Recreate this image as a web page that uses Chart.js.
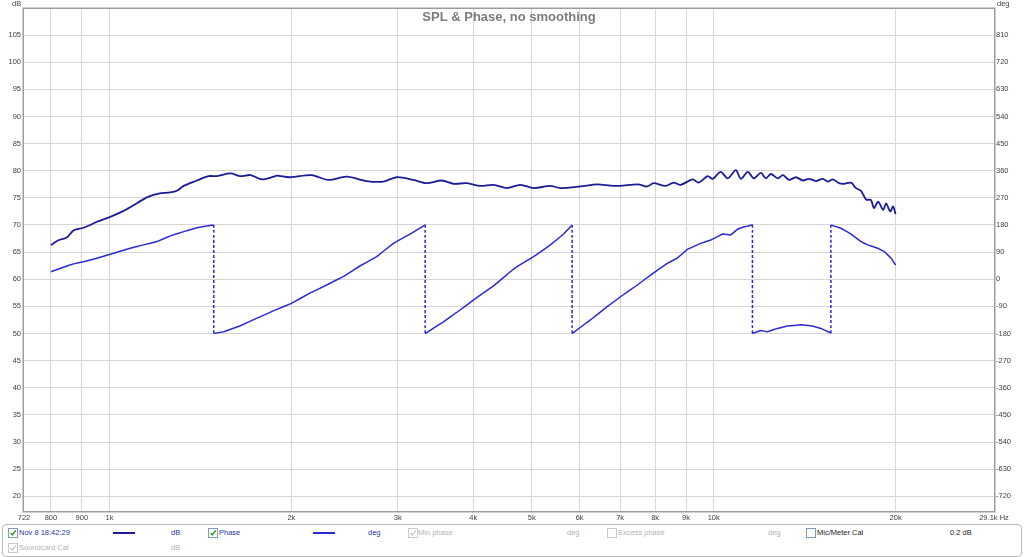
<!DOCTYPE html>
<html>
<head>
<meta charset="utf-8">
<script src="https://cdn.jsdelivr.net/npm/chart.js@4.4.1/dist/chart.umd.min.js"></script>
<style>
  html, body { margin: 0; padding: 0; background: #fff; }
  body { width: 1024px; height: 557px; position: relative; overflow: hidden; font-family: "Liberation Sans", Arial, sans-serif; }
  #wrap { position: absolute; left: 0; top: 0; width: 1024px; height: 524px; }
  .legend { position: absolute; left: 2px; top: 524px; width: 1018px; height: 31px; border: 1px solid #bcbcbc; border-radius: 4px; }
  .legend span { position: absolute; font-size: 7.5px; line-height: 10px; white-space: nowrap; }
  .on { color: #2a36a8; }
  .off { color: #b4b4b4; }
  .cb { width: 8px; height: 8px; border: 1px solid #7f9db9; background: #fff; }
  .cb.dis { border-color: #cacaca; }
  .cb svg { position: absolute; left: 0; top: 0; }
  .swatch { height: 0; border-top: 2px solid #1c1c96; }
</style>
</head>
<body>
<div id="wrap"><canvas id="splChart" width="1024" height="524"></canvas></div>
<div class="legend">
  <span class="cb" style="left:5px;top:3px"><svg width="8" height="8"><polyline points="1.5,4 3.3,6 6.8,1.5" fill="none" stroke="#2a9d2a" stroke-width="1.4"/></svg></span>
  <span class="on" style="left:16px;top:3px">Nov 8 18:42:29</span>
  <span class="swatch" style="left:110px;top:7px;width:22px"></span>
  <span class="on" style="left:168px;top:3px">dB</span>
  <span class="cb" style="left:205px;top:3px"><svg width="8" height="8"><polyline points="1.5,4 3.3,6 6.8,1.5" fill="none" stroke="#2a9d2a" stroke-width="1.4"/></svg></span>
  <span class="on" style="left:216px;top:3px">Phase</span>
  <span class="swatch" style="left:310px;top:7px;width:22px;border-color:#2a2ad0"></span>
  <span class="on" style="left:365px;top:3px">deg</span>
  <span class="cb dis" style="left:405px;top:3px"><svg width="8" height="8"><polyline points="1.5,4 3.3,6 6.8,1.5" fill="none" stroke="#c4c4c4" stroke-width="1.2"/></svg></span>
  <span class="off" style="left:415px;top:3px">Min phase</span>
  <span class="off" style="left:564px;top:3px">deg</span>
  <span class="cb dis" style="left:604px;top:3px"></span>
  <span class="off" style="left:615px;top:3px">Excess phase</span>
  <span class="off" style="left:765px;top:3px">deg</span>
  <span class="cb" style="left:803px;top:3px"></span>
  <span style="left:814px;top:3px;color:#222">Mic/Meter Cal</span>
  <span style="left:947px;top:3px;color:#222">0.2 dB</span>
  <span class="cb dis" style="left:5px;top:18px"><svg width="8" height="8"><polyline points="1.5,4 3.3,6 6.8,1.5" fill="none" stroke="#c4c4c4" stroke-width="1.2"/></svg></span>
  <span class="off" style="left:16px;top:18px">Soundcard Cal</span>
  <span class="off" style="left:168px;top:18px">dB</span>
</div>
<script>
// SPL trace (Hz / dB)
const splFreq = [800, 823, 850, 872, 900, 929, 953, 1003, 1055, 1110,
    1153, 1206, 1261, 1293, 1327, 1395, 1459, 1506, 1586, 1647,
    1712, 1789, 1871, 1890, 1988, 2160, 2301, 2469, 2665, 2840,
    2989, 3184, 3351, 3549, 3710, 3904, 4108, 4322, 4549, 4785,
    5035, 5366, 5575, 6017, 6414, 6834, 7473, 7568, 7762, 7952,
    8325, 8584, 8816, 9231, 9443, 9772, 9961, 10270, 10550, 10880,
    11090, 11390, 11650, 11970, 12200, 12430, 12770, 13020, 13320, 13680,
    14050, 14370, 14760, 15160, 15450, 15750, 16120, 16430, 16880, 17200,
    17530, 17870, 18210, 18420, 18710, 19070, 19290, 19590, 19810, 20000];
const splDb = [66.3, 67.2, 67.7, 69.0, 69.4, 70.0, 70.6, 71.5, 72.6, 74.0,
    75.1, 75.8, 76.0, 76.3, 77.2, 78.2, 79.0, 79.0, 79.5, 79.0,
    79.2, 78.4, 78.9, 79.1, 78.8, 79.2, 78.3, 78.9, 78.1, 78.0,
    78.8, 78.3, 77.7, 78.2, 77.6, 77.7, 77.2, 77.4, 76.8, 77.4,
    76.8, 77.2, 76.8, 77.1, 77.5, 77.2, 77.5, 77.4, 77.1, 77.7,
    77.2, 77.8, 77.4, 78.4, 77.8, 79.0, 78.5, 79.8, 78.6, 80.1,
    78.5, 79.8, 78.6, 79.6, 78.6, 79.4, 78.6, 79.2, 78.3, 78.8,
    78.2, 78.5, 78.1, 78.5, 78.0, 78.4, 77.7, 77.6, 77.8, 76.8,
    76.3, 74.7, 74.6, 73.1, 74.3, 72.8, 74.0, 72.5, 73.4, 72.0];

// Phase trace (Hz / deg), wrapped at +/-180
const phaseFreq = [800, 839, 872, 906, 953, 1003, 1082, 1139, 1198, 1261, 1327, 1395, 1488,
    1488, 1546, 1647, 1755, 1871, 2000, 2146, 2288, 2437, 2597, 2769, 2950, 3145, 3330,
    3330, 3570, 3805, 4000, 4322, 4606, 4726, 5035, 5366, 5645, 5830,
    5830, 6250, 6663, 7011, 7473, 7863, 8379, 8705, 9043, 9515, 9886, 10340, 10670, 10950, 11230, 11590,
    11590, 11970, 12270, 12750, 13250, 13940, 14480, 15050, 15630,
    15630, 16240, 16880, 17530, 17980, 18680, 19160, 19660, 20000];
const phaseDeg = [25, 40, 51, 58, 70, 83, 103, 114, 125, 144, 158, 171, 180,
    -180, -174, -154, -129, -104, -80, -46, -19, 9, 44, 75, 119, 150, 180,
    -180, -141, -102, -69, -22, 25, 42, 75, 114, 150, 180,
    -180, -135, -91, -58, -19, 14, 53, 70, 99, 119, 130, 150, 147, 166, 174, 180,
    -180, -170, -174, -163, -155, -151, -154, -163, -178,
    180, 169, 150, 125, 114, 103, 92, 70, 47];

// Axes
const freqTicks = [722, 800, 900, 1000, 2000, 3000, 4000, 5000, 6000, 7000, 8000, 9000, 10000, 20000, 29100];
const freqLabels = ["722", "800", "900", "1k", "2k", "3k", "4k", "5k", "6k", "7k", "8k", "9k", "10k", "20k", "29.1k Hz"];
const dbTicks = [20, 25, 30, 35, 40, 45, 50, 55, 60, 65, 70, 75, 80, 85, 90, 95, 100, 105];
const degTicks = [-720, -630, -540, -450, -360, -270, -180, -90, 0, 90, 180, 270, 360, 450, 540, 630, 720, 810];

const tickFont = { family: "'Liberation Sans', Arial, sans-serif", size: 7.5 };

const framePlugin = {
    id: 'frame',
    afterDraw(chart) {
        const ctx = chart.ctx;
        const a = chart.chartArea;
        ctx.save();
        ctx.strokeStyle = '#d0d0d0';
        ctx.lineWidth = 1;
        ctx.strokeRect(a.left - 1.5, a.top - 1.5, a.right - a.left + 3, a.bottom - a.top + 3);
        ctx.strokeStyle = '#9c9c9c';
        ctx.strokeRect(a.left - 0.5, a.top - 0.5, a.right - a.left + 1, a.bottom - a.top + 1);
        ctx.fillStyle = '#7c7c7c';
        ctx.font = "bold 13px 'Liberation Sans', Arial, sans-serif";
        ctx.textAlign = 'center';
        ctx.textBaseline = 'middle';
        ctx.fillText('SPL & Phase, no smoothing', (a.left + a.right) / 2, 17);
        ctx.fillStyle = '#404040';
        ctx.font = "7.5px 'Liberation Sans', Arial, sans-serif";
        ctx.textAlign = 'left';
        ctx.fillText('dB', 12, 4);
        ctx.fillText('deg', 997, 4);
        ctx.restore();
    }
};

const ctx = document.getElementById('splChart').getContext('2d');
const splChart = new Chart(ctx, {
    type: 'line',
    data: {
        datasets: [{
            label: 'Nov 8 18:42:29',
            data: splFreq.map((f, i) => ({ x: f, y: splDb[i] })),
            borderColor: '#1c1c96',
            borderWidth: 1.8,
            pointRadius: 0,
            tension: 0.3,
            yAxisID: 'y'
        }, {
            label: 'Phase',
            data: phaseFreq.map((f, i) => ({ x: f, y: phaseDeg[i] })),
            borderColor: '#2a2ad0',
            borderWidth: 1.5,
            pointRadius: 0,
            // tiny tension so the line is not drawn with the fast path (keeps the dashed wraps)
            tension: 0.001,
            yAxisID: 'y2',
            segment: {
                borderDash: c => Math.abs(c.p1.parsed.y - c.p0.parsed.y) > 300 ? [3, 2] : []
            }
        }]
    },
    options: {
        responsive: false,
        animation: false,
        layout: { padding: { top: 9, left: 0, right: 0, bottom: 0 } },
        plugins: {
            legend: { display: false },
            tooltip: { enabled: false },
            title: { display: false }
        },
        scales: {
            x: {
                type: 'logarithmic',
                min: 722,
                max: 29100,
                afterBuildTicks: s => { s.ticks = freqTicks.map(v => ({ value: v })); },
                afterFit: s => { s.height = 13; },
                border: { display: false },
                grid: {
                    drawTicks: false,
                    color: c => (c.tick && (c.tick.value === 722 || c.tick.value === 29100)) ? 'rgba(0,0,0,0)' : '#d6d6d6',
                    lineWidth: 1
                },
                ticks: {
                    autoSkip: false,
                    maxRotation: 0,
                    padding: 2,
                    color: '#404040',
                    font: tickFont,
                    callback: (v, i) => freqLabels[i]
                }
            },
            y: {
                position: 'left',
                min: 17.3,
                max: 109.8,
                afterBuildTicks: s => { s.ticks = dbTicks.map(v => ({ value: v })); },
                afterFit: s => { s.width = 24; },
                border: { display: false },
                grid: { drawTicks: false, color: '#d6d6d6', lineWidth: 1 },
                ticks: { autoSkip: false, padding: 3, color: '#404040', font: tickFont }
            },
            y2: {
                position: 'right',
                min: -768.6,
                max: 896.4,
                afterBuildTicks: s => { s.ticks = degTicks.map(v => ({ value: v })); },
                afterFit: s => { s.width = 30; },
                border: { display: false },
                grid: { display: false, drawTicks: false },
                ticks: { autoSkip: false, padding: 2, color: '#404040', font: tickFont }
            }
        }
    },
    plugins: [framePlugin]
});
</script>
</body>
</html>
